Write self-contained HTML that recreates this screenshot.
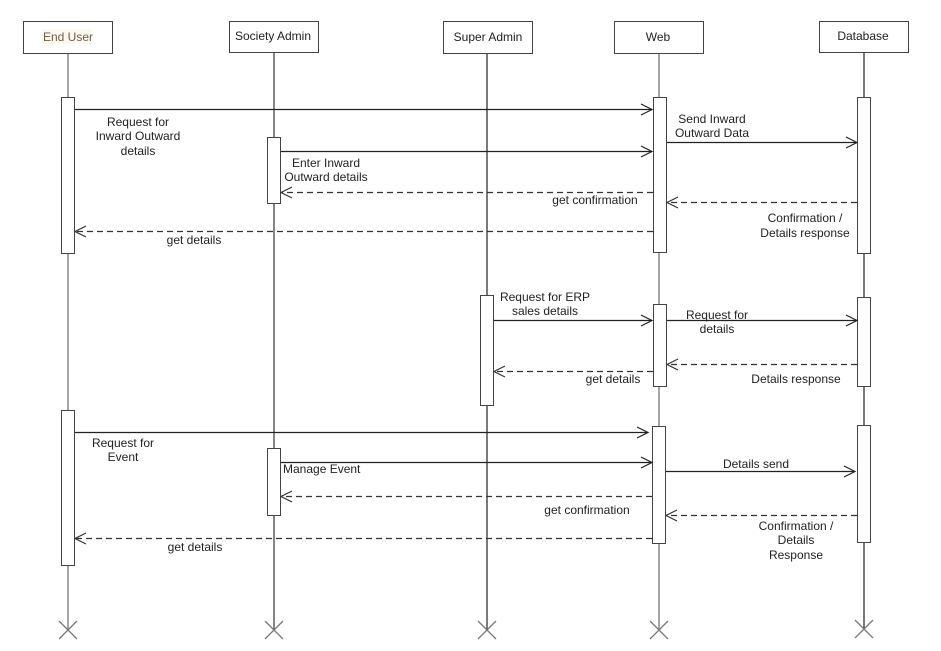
<!DOCTYPE html>
<html><head><meta charset="utf-8"><style>
html,body{margin:0;padding:0;background:#fff;}
svg{display:block;}
text{font-family:"Liberation Sans",Arial,sans-serif;font-size:12px;fill:#222;}
</style></head><body>
<svg width="941" height="651" viewBox="0 0 941 651" xmlns="http://www.w3.org/2000/svg">
<g stroke="#777" stroke-width="1.3" fill="none">
  <line x1="68" y1="53" x2="68" y2="630"/>
  <line x1="274" y1="53" x2="274" y2="630" stroke="#444"/>
  <line x1="487" y1="53" x2="487" y2="630" stroke="#333"/>
  <line x1="659" y1="53" x2="659" y2="630"/>
  <line x1="864" y1="53" x2="864" y2="630" stroke="#333"/>
  <!-- X markers -->
  <path d="M59,621 L77,639 M77,621 L59,639"/>
  <path d="M265,621 L283,639 M283,621 L265,639"/>
  <path d="M478,621 L496,639 M496,621 L478,639"/>
  <path d="M650,621 L668,639 M668,621 L650,639"/>
  <path d="M855,620 L873,638 M873,620 L855,638"/>
</g>
<!-- header boxes -->
<g fill="#fff" stroke="#444" stroke-width="1">
  <rect x="23.5" y="21.5" width="89" height="32"/>
  <rect x="229.5" y="21.5" width="89" height="31"/>
  <rect x="443.5" y="21.5" width="89" height="32"/>
  <rect x="614.5" y="21.5" width="89" height="32"/>
  <rect x="819.5" y="21.5" width="89" height="31"/>
</g>
<rect x="42" y="29" width="50" height="15" fill="#fdf8ee"/>
<text x="68" y="41" text-anchor="middle" fill="#7a6a50" style="fill:#6b5e4a">End User</text>
<text x="273" y="40" text-anchor="middle">Society Admin</text>
<text x="488" y="41" text-anchor="middle">Super Admin</text>
<text x="658" y="41" text-anchor="middle">Web</text>
<text x="863" y="40" text-anchor="middle">Database</text>
<!-- activations -->
<g fill="#fff" stroke="#444" stroke-width="1">
  <rect x="61.5" y="97.5" width="13" height="156"/>
  <rect x="267.5" y="137.5" width="13" height="66"/>
  <rect x="653.5" y="97.5" width="13" height="155"/>
  <rect x="857.5" y="97.5" width="13" height="156"/>
  <rect x="480.5" y="295.5" width="13" height="110"/>
  <rect x="653.5" y="304.5" width="13" height="82"/>
  <rect x="857.5" y="297.5" width="13" height="89"/>
  <rect x="61.5" y="410.5" width="13" height="155"/>
  <rect x="267.5" y="448.5" width="13" height="67"/>
  <rect x="652.5" y="426.5" width="13" height="117"/>
  <rect x="857.5" y="425.5" width="13" height="117"/>
</g>
<!-- solid arrows -->
<g stroke="#222" stroke-width="1.2" fill="none">
  <line x1="75" y1="109.5" x2="652" y2="109.5"/><path d="M641,104 L652,109.5 L641,115"/>
  <line x1="281" y1="151.5" x2="652" y2="151.5"/><path d="M641,146 L652,151.5 L641,157"/>
  <line x1="667" y1="142.5" x2="857" y2="142.5"/><path d="M846,137 L857,142.5 L846,148"/>
  <line x1="494" y1="320.5" x2="652" y2="320.5"/><path d="M641,315 L652,320.5 L641,326"/>
  <line x1="667" y1="320.5" x2="857" y2="320.5"/><path d="M846,315 L857,320.5 L846,326"/>
  <line x1="75" y1="432.5" x2="648" y2="432.5"/><path d="M637,427 L648,432.5 L637,438"/>
  <line x1="281" y1="462.5" x2="652" y2="462.5"/><path d="M641,457 L652,462.5 L641,468"/>
  <line x1="666" y1="471.5" x2="855" y2="471.5"/><path d="M844,466 L855,471.5 L844,477"/>
</g>
<!-- dashed arrows -->
<g stroke="#333" stroke-width="1.2" fill="none">
  <g stroke-dasharray="6,4">
    <line x1="857" y1="202.5" x2="667" y2="202.5"/>
    <line x1="653" y1="192.5" x2="281" y2="192.5"/>
    <line x1="653" y1="231.5" x2="75" y2="231.5"/>
    <line x1="857" y1="364.5" x2="667" y2="364.5"/>
    <line x1="653" y1="371.5" x2="494" y2="371.5"/>
    <line x1="652" y1="496.5" x2="281" y2="496.5"/>
    <line x1="857" y1="515.5" x2="666" y2="515.5"/>
    <line x1="652" y1="538.5" x2="75" y2="538.5"/>
  </g>
  <path d="M678,197 L667,202.5 L678,208"/>
  <path d="M292,187 L281,192.5 L292,198"/>
  <path d="M86,226 L75,231.5 L86,237"/>
  <path d="M678,359 L667,364.5 L678,370"/>
  <path d="M505,366 L494,371.5 L505,377"/>
  <path d="M292,491 L281,496.5 L292,502"/>
  <path d="M677,510 L666,515.5 L677,521"/>
  <path d="M86,533 L75,538.5 L86,544"/>
</g>
<!-- labels -->
<text x="138" y="126" text-anchor="middle">Request for</text>
<text x="138" y="140" text-anchor="middle">Inward Outward</text>
<text x="138" y="155" text-anchor="middle">details</text>
<text x="326" y="167" text-anchor="middle">Enter Inward</text>
<text x="326" y="181" text-anchor="middle">Outward details</text>
<text x="712" y="123" text-anchor="middle">Send Inward</text>
<text x="712" y="137" text-anchor="middle">Outward Data</text>
<text x="595" y="204" text-anchor="middle">get confirmation</text>
<text x="805" y="222" text-anchor="middle">Confirmation /</text>
<text x="805" y="237" text-anchor="middle">Details response</text>
<text x="194" y="244" text-anchor="middle">get details</text>
<text x="545" y="301" text-anchor="middle">Request for ERP</text>
<text x="545" y="315" text-anchor="middle">sales details</text>
<text x="717" y="319" text-anchor="middle">Request for</text>
<text x="717" y="333" text-anchor="middle">details</text>
<text x="613" y="383" text-anchor="middle">get details</text>
<text x="796" y="383" text-anchor="middle">Details response</text>
<text x="123" y="447" text-anchor="middle">Request for</text>
<text x="123" y="461" text-anchor="middle">Event</text>
<text x="283" y="473">Manage Event</text>
<text x="756" y="468" text-anchor="middle">Details send</text>
<text x="587" y="514" text-anchor="middle">get confirmation</text>
<text x="796" y="530" text-anchor="middle">Confirmation /</text>
<text x="796" y="544" text-anchor="middle">Details</text>
<text x="796" y="559" text-anchor="middle">Response</text>
<text x="195" y="551" text-anchor="middle">get details</text>
</svg>
</body></html>
